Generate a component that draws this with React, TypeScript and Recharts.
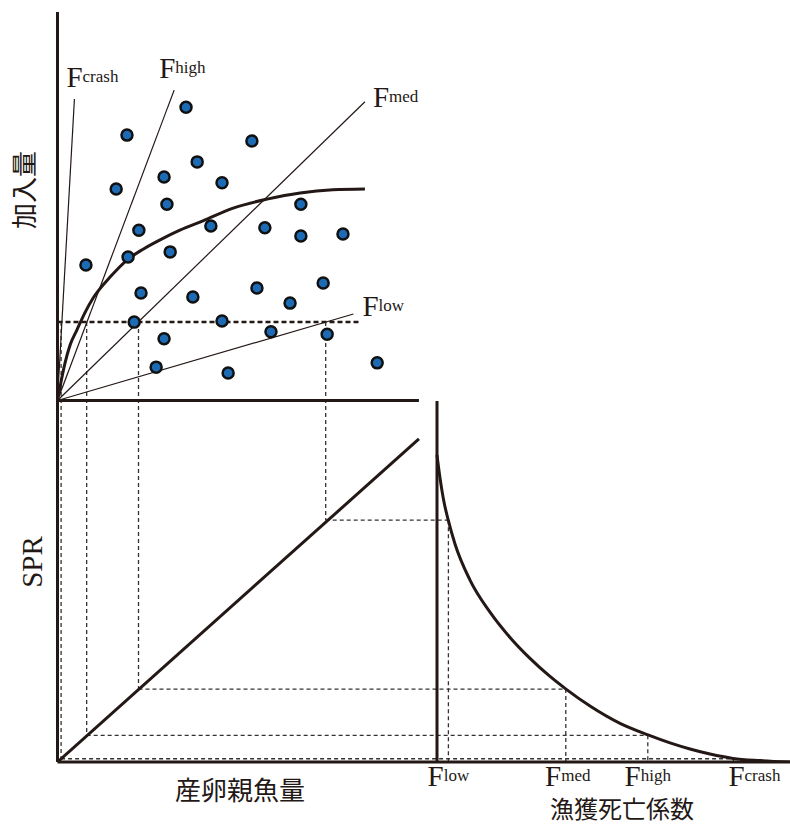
import { ComposedChart, Line, Scatter, XAxis, YAxis, ReferenceLine } from "recharts"

// observed spawning stock (x) and recruitment (y)
const spawnerStock = [35.7, 19.3, 54.0, 38.8, 29.6, 45.7, 16.3, 30.4, 67.6, 22.6, 42.6, 57.6, 67.6, 79.3, 7.9,
  19.6, 31.3, 23.2, 37.6, 55.4, 64.6, 73.8, 21.3, 45.7, 29.6, 59.3, 74.9, 27.4, 47.4, 88.8]
const recruits = [75.6, 68.4, 66.9, 61.5, 57.6, 56.1, 54.5, 50.6, 50.6, 43.9, 45.0, 44.5, 42.4, 42.9, 34.9,
  37.0, 38.3, 27.7, 26.7, 29.0, 25.1, 30.3, 20.2, 20.5, 15.9, 17.7, 17.1, 8.6, 7.1, 9.7]

// stock-recruitment curve
const curveStock = [0, 0.7, 2.1, 3.5, 5.4, 7.6, 9.9, 14.6, 19.3, 23.8, 28.5, 34.0, 40.4, 48.8, 58.2, 67.4, 76.5, 85.4]
const curveRecruits = [0, 3.5, 9.7, 14.3, 18.2, 22.6, 26.4, 31.8, 36.2, 39.0, 41.4, 43.9, 46.3, 49.6, 51.9, 53.5, 54.3, 54.5]

// median recruitment
const medianRec = 20.2
const medianEndStock = 84.3

// F reference points
const fNames = ["low", "med", "high", "crash"]
const fLineEndStock = [82.2, 85.4, 32.4, 4.7]
const fLineEndRec = [22.3, 77.0, 80.0, 77.7]
const refStock = [74.5, 22.5, 8.1, 1.0]
const refSpr = [67.0, 20.2, 7.4, 0.9]
const refF = [0.057, 0.644, 1.054, 1.482]

// SPR vs spawning stock
const sprLineStock = [0, 100.4]
const sprLineSpr = [0, 89.5]

// SPR vs fishing mortality
const fCurveF = [0, 0.015, 0.035, 0.055, 0.09, 0.165, 0.265, 0.365, 0.465, 0.565, 0.645, 0.765, 0.915, 1.055,
  1.165, 1.265, 1.365, 1.48, 1.615, 1.765]
const fCurveSpr = [85.0, 78.7, 72.0, 67.3, 60.4, 50.4, 41.5, 34.5, 28.7, 23.7, 20.2, 15.5, 10.7, 7.5,
  5.3, 3.6, 2.2, 1.0, 0.4, 0]

// layout
const W = 790
const H = 826
const LEFT = 57.5
const RIGHT = 790
const TOP = 12
const BOTTOM = 762
const SSB_PX = 3.6
const F_ORIGIN = 437
const F_PX = 200
const REC_ORIGIN = 400.5
const REC_PX = 3.88
const SPR_PX = 3.61

const ssbX = (s: number) => LEFT + s * SSB_PX
const fX = (f: number) => F_ORIGIN + f * F_PX
const recY = (r: number) => REC_ORIGIN - r * REC_PX
const ssbToF = (s: number) => (ssbX(s) - F_ORIGIN) / F_PX
const recToSpr = (r: number) => (BOTTOM - recY(r)) / SPR_PX

const ssbDomain = [0, (RIGHT - LEFT) / SSB_PX]
const fDomain = [(LEFT - F_ORIGIN) / F_PX, (RIGHT - F_ORIGIN) / F_PX]
const recDomain = [(REC_ORIGIN - BOTTOM) / REC_PX, (REC_ORIGIN - TOP) / REC_PX]
const sprDomain = [0, (BOTTOM - TOP) / SPR_PX]

const INK = "#231815"
const DASH = { stroke: "#333", strokeWidth: 1.3, strokeDasharray: "4 3" }
const SERIF = "'Liberation Serif', 'Times New Roman', serif"
const JP = "'Noto Sans CJK JP', sans-serif"

const obsData = spawnerStock.map((s, i) => ({ s, r: recruits[i] }))
const bhData = curveStock.map((s, i) => ({ s, r: curveRecruits[i] }))
const fLineData = fNames.map((_, i) => [{ s: 0, r: 0 }, { s: fLineEndStock[i], r: fLineEndRec[i] }])
const sprLineData = sprLineStock.map((s, i) => ({ s, v: sprLineSpr[i] }))
const fCurveData = fCurveF.map((f, i) => ({ f, v: fCurveSpr[i] }))

const topLabelOffset = [[9, 2], [8, 5], [-15, -12], [-8, -12]]
const bottomLabelShift = [0, 2, 0, 21]

const Dot = (props: any) => (
  <circle cx={props.cx} cy={props.cy} r={5.5} fill="#1c6bb4" stroke="#111" strokeWidth={2.5} />
)

const FLabel = ({ x, y, sub, anchor }: { x: number; y: number; sub: string; anchor?: string }) => (
  <text x={x} y={y} fontFamily={SERIF} fill={INK} textAnchor={anchor as any}>
    <tspan fontSize={29}>F</tspan>
    <tspan fontSize={17} dy={-5}>{sub}</tspan>
  </text>
)

export default function App() {
  return (
    <div style={{ position: "absolute", left: 0, top: 0, width: W, height: H, background: "#fff" }}>
      <ComposedChart width={W} height={H} margin={{ top: TOP, right: W - RIGHT, bottom: H - BOTTOM, left: LEFT }}>
        <XAxis xAxisId="ssb" type="number" dataKey="s" domain={ssbDomain} allowDataOverflow hide />
        <XAxis xAxisId="f" type="number" dataKey="f" domain={fDomain} allowDataOverflow hide />
        <YAxis yAxisId="rec" type="number" dataKey="r" domain={recDomain} allowDataOverflow hide />
        <YAxis yAxisId="spr" type="number" dataKey="v" domain={sprDomain} allowDataOverflow hide />

        {/* connectors */}
        <ReferenceLine xAxisId="ssb" yAxisId="rec" segment={[{ x: 0, y: medianRec }, { x: medianEndStock, y: medianRec }]}
          stroke={INK} strokeWidth={2.5} strokeDasharray="5 3" />
        {refStock.map((s, i) => (
          <ReferenceLine key={"v" + i} xAxisId="ssb" yAxisId="spr"
            segment={[{ x: s, y: recToSpr(medianRec) }, { x: s, y: refSpr[i] }]} {...DASH} />
        ))}
        {refStock.map((s, i) => (
          <ReferenceLine key={"h" + i} xAxisId="f" yAxisId="spr"
            segment={[{ x: ssbToF(s), y: refSpr[i] }, { x: refF[i], y: refSpr[i] }]} {...DASH} />
        ))}
        {refF.map((f, i) => (
          <ReferenceLine key={"d" + i} xAxisId="f" yAxisId="spr"
            segment={[{ x: f, y: refSpr[i] }, { x: f, y: 0 }]} {...DASH} />
        ))}

        {/* axes */}
        <ReferenceLine xAxisId="ssb" yAxisId="rec" x={0} stroke={INK} strokeWidth={3} />
        <ReferenceLine xAxisId="ssb" yAxisId="spr" y={0} stroke={INK} strokeWidth={3} />
        <ReferenceLine xAxisId="ssb" yAxisId="rec" segment={[{ x: 0, y: 0 }, { x: sprLineStock[1], y: 0 }]}
          stroke={INK} strokeWidth={3} />
        <ReferenceLine xAxisId="f" yAxisId="spr" segment={[{ x: 0, y: 0 }, { x: 0, y: 100 }]}
          stroke={INK} strokeWidth={3} />

        {fLineData.map((d, i) => (
          <Line key={fNames[i]} name={"F" + fNames[i]} xAxisId="ssb" yAxisId="rec" data={d} dataKey="r"
            type="linear" stroke={INK} strokeWidth={1.2} dot={false} isAnimationActive={false} />
        ))}
        <Line name="sr" xAxisId="ssb" yAxisId="rec" data={bhData} dataKey="r" type="monotone"
          stroke={INK} strokeWidth={3} dot={false} isAnimationActive={false} />
        <Line name="sprline" xAxisId="ssb" yAxisId="spr" data={sprLineData} dataKey="v" type="linear"
          stroke={INK} strokeWidth={3} dot={false} isAnimationActive={false} />
        <Line name="sprF" xAxisId="f" yAxisId="spr" data={fCurveData} dataKey="v" type="monotone"
          stroke={INK} strokeWidth={3} dot={false} isAnimationActive={false} />
        <Scatter xAxisId="ssb" yAxisId="rec" data={obsData} shape={Dot} isAnimationActive={false} />
      </ComposedChart>

      <svg width={W} height={H} style={{ position: "absolute", left: 0, top: 0, pointerEvents: "none" }}>
        {fNames.map((n, i) => (
          <FLabel key={"t" + n} sub={n}
            x={ssbX(fLineEndStock[i]) + topLabelOffset[i][0]} y={recY(fLineEndRec[i]) + topLabelOffset[i][1]} />
        ))}
        {fNames.map((n, i) => (
          <FLabel key={"b" + n} sub={n} anchor="middle" x={fX(refF[i]) + bottomLabelShift[i]} y={786} />
        ))}
        <text x={22.5} y={190} transform="rotate(-90 22.5 190)" textAnchor="middle" dominantBaseline="central"
          fontFamily={JP} fontSize={26} fill={INK}>加入量</text>
        <text x={32} y={562} transform="rotate(-90 32 562)" textAnchor="middle" dominantBaseline="central"
          fontFamily={SERIF} fontSize={29} fill={INK}>SPR</text>
        <text x={240} y={800} textAnchor="middle" fontFamily={JP} fontSize={26} fill={INK}>産卵親魚量</text>
        <text x={622} y={818} textAnchor="middle" fontFamily={JP} fontSize={24} fill={INK}>漁獲死亡係数</text>
      </svg>
    </div>
  )
}
